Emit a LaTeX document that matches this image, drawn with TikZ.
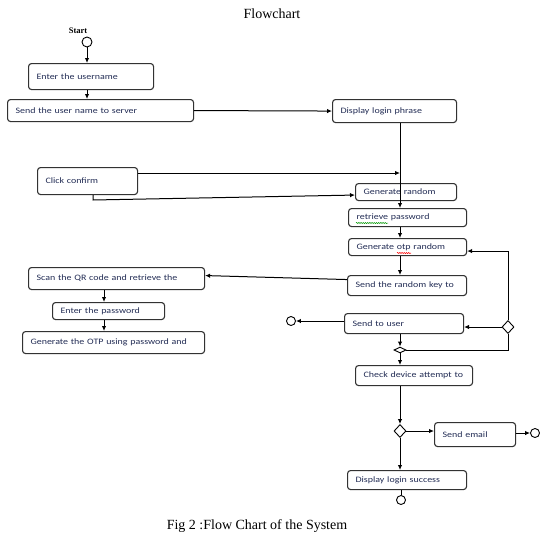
\documentclass[tikz,border=0pt]{standalone}
\usepackage{fontspec}
\setmainfont{Liberation Serif}
\newfontfamily\boxfont[FakeStretch=1.2]{Carlito}
\usetikzlibrary{arrows.meta,shapes.geometric,decorations.pathmorphing}
\definecolor{txt}{RGB}{35,45,85}
\definecolor{edge}{RGB}{50,50,50}
\begin{document}
\begin{tikzpicture}[x=1pt,y=-1pt,
  box/.style={draw=edge, line width=1.1pt, rounded corners=3pt, anchor=north west, inner xsep=8pt, inner ysep=0pt, font=\boxfont\fontsize{8.3}{9}\selectfont, text=txt, align=left},
  arr/.style={draw=black, line width=1pt, -{Latex[length=5pt,width=4.5pt]}},
  ln/.style={draw=black, line width=1pt},
  term/.style={circle, draw=black, line width=0.9pt, minimum size=10pt, inner sep=0pt, fill=white},
  dec/.style={diamond, draw=black, line width=0.9pt, inner sep=0pt, fill=white},
  squig/.style={decorate, decoration={snake, amplitude=0.6pt, segment length=2.2pt}, line width=0.5pt}
]
\fill[white] (0,0) rectangle (556,541);
\useasboundingbox (0,0) rectangle (556,541);

\node[font=\fontsize{14}{16}\selectfont] (title) at (272,14) {Flowchart};
\node[font=\fontsize{14}{16}\selectfont] (caption) at (257,526) {Fig 2 :Flow Chart of the System};

\node[font=\bfseries\fontsize{8.5}{9}\selectfont] (stl) at (78,31) {Start};
\node[term] (st) at (87,42) {};

\node[box, text width=109pt, minimum height=26pt] (eu) at (28,63) {Enter the username};
\node[box, text width=170pt, minimum height=22pt] (su) at (7,99) {Send the user name to server};
\node[box, text width=108pt, minimum height=23pt] (dl) at (332,99) {Display login phrase};
\node[box, text width=84pt, minimum height=27pt] (cc) at (37,167) {Click confirm};
\node[box, text width=85pt, minimum height=17pt] (gr) at (355,183) {Generate random};
\node[box, text width=102pt, minimum height=18pt] (rp) at (348,208) {retrieve password};
\node[box, text width=102pt, minimum height=17pt] (go) at (348,238) {Generate otp random};
\node[box, text width=103pt, minimum height=20pt] (sr) at (347,275) {Send the random key to};
\node[box, text width=160pt, minimum height=22pt] (qr) at (28,267) {Scan the QR code and retrieve the};
\node[box, text width=96pt, minimum height=17pt] (ep) at (52,302) {Enter the password};
\node[box, text width=166pt, minimum height=22pt] (gotp) at (22,331) {Generate the OTP using password and};
\node[box, text width=103pt, minimum height=20pt] (stu) at (344,313) {Send to user};
\node[box, text width=101pt, minimum height=20pt] (cd) at (355,365) {Check device attempt to};
\node[box, text width=65pt, minimum height=24pt] (se) at (434,422) {Send email};
\node[box, text width=103pt, minimum height=19pt] (ds) at (347,470) {Display login success};

\node[dec, minimum width=12pt, minimum height=13pt] (d1) at (508,327) {};
\node[dec, minimum width=12pt, minimum height=6pt, aspect=2] (d2) at (400,350) {};
\node[dec, minimum width=12pt, minimum height=13pt] (d3) at (400,431) {};

\node[term, minimum size=9pt] (e1) at (291,321) {};
\node[term, minimum size=9pt] (e2) at (535,433) {};
\node[term, minimum size=9pt] (e3) at (401,500) {};

\coordinate (v) at (400,0);
\coordinate (q) at (104,0);
\coordinate (j1) at (400,173);
\coordinate (c2) at (93,200);

% connectors
\draw[arr] (st.south) -- (st.south |- eu.north);
\draw[arr] (st.south |- eu.south) -- (st.south |- su.north);
\draw[arr] (su.east) -- (dl.west);
\draw[arr] (v |- dl.south) -- (v |- rp.north);
\draw[arr] (cc.east |- j1) -- (j1);
\draw[arr] (c2 |- cc.south) -- (c2) -- ([yshift=-3pt]gr.west);
\draw[arr] (v |- rp.south) -- (v |- go.north);
\draw[arr] (v |- go.south) -- (v |- sr.north);
\draw[arr] ([yshift=6pt]sr.west) -- ([yshift=3pt]qr.east);
\draw[arr] (q |- qr.south) -- (q |- ep.north);
\draw[arr] (q |- ep.south) -- (q |- gotp.north);
\draw[arr] (d1.north) |- ([yshift=-4pt]go.east);
\draw[arr] (d1.west) -- (d1.west -| stu.east);
\draw[ln] (d1.south) |- (d2.east);
\draw[arr] (e1 -| stu.west) -- (e1.east);
\draw[arr] (v |- stu.south) -- (d2.north);
\draw[arr] (d2.south) -- (v |- cd.north);
\draw[arr] (v |- cd.south) -- (d3.north);
\draw[arr] (d3.east) -- (d3.east -| se.west);
\draw[arr] (se.east |- e2) -- (e2.west);
\draw[arr] (d3.south) -- (v |- ds.north);
\draw[ln] (e3 |- ds.south) -- (e3.north);

% spell-check marks
\draw[squig, draw=green!60!black] (356,223) -- (388,223);
\draw[squig, draw=red] (397,253) -- (411,253);
\end{tikzpicture}
\end{document}
